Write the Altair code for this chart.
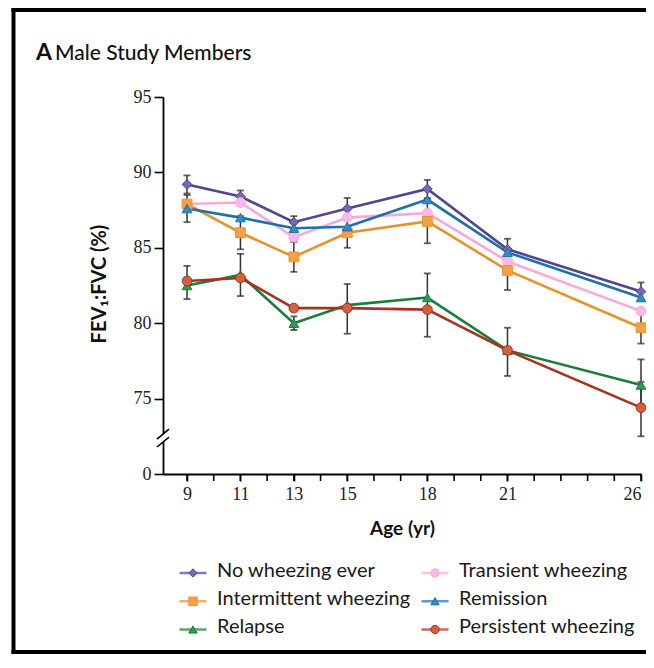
import altair as alt
import pandas as pd

# ---------------- data ----------------
ages = [9, 11, 13, 15, 18, 21, 26]
minor_ticks = [9, 10, 11, 12, 13, 14, 15, 16, 17, 18, 19, 20, 21, 22, 23, 24, 25, 26]
series = ["No wheezing ever", "Transient wheezing", "Intermittent wheezing",
          "Remission", "Relapse", "Persistent wheezing"]
no_wheezing = [89.2, 88.4, 86.7, 87.6, 88.9, 84.9, 82.1]
transient = [87.9, 88.0, 85.7, 87.0, 87.3, 84.1, 80.8]
intermittent = [87.9, 86.0, 84.4, 86.0, 86.75, 83.5, 79.7]
remission = [87.6, 87.0, 86.3, 86.4, 88.2, 84.7, 81.7]
relapse = [82.5, 83.2, 80.0, 81.2, 81.7, 78.2, 75.9]
persistent = [82.8, 83.0, 81.0, 81.0, 80.9, 78.2, 74.4]

err_series = (["No wheezing ever"] * 7 + ["Remission"] +
              ["Intermittent wheezing"] * 6 +
              ["Persistent wheezing"] * 5 + ["Relapse"] * 3)
err_age = ([9, 11, 13, 15, 18, 21, 26] + [9] +
           [11, 13, 15, 18, 21, 26] +
           [9, 15, 18, 21, 26] + [11, 13, 26])
err_low = ([88.6, 88.0, 86.3, 86.9, 88.3, 84.2, 81.5] + [86.7] +
           [84.9, 83.4, 85.0, 85.3, 82.2, 78.65] +
           [81.6, 79.3, 79.1, 76.5, 72.5] + [81.8, 79.55, 74.2])
err_high = ([89.8, 88.8, 87.1, 88.3, 89.5, 85.6, 82.7] + [88.5] +
            [87.1, 85.4, 87.0, 88.2, 84.8, 80.75] +
            [83.8, 82.6, 83.3, 79.7, 76.1] + [84.6, 80.45, 77.6])

y_ticks = [70, 75, 80, 85, 90, 95]
legend_col = [0, 1, 0, 1, 0, 1]
legend_row = [0, 0, 1, 1, 2, 2]

line_colors = ["#54438F", "#F7A9DC", "#E8922E", "#1F6FA8", "#1E7B3E", "#A8321F"]
fill_colors = ["#7A66B2", "#FFB8EA", "#F6A04C", "#2F8CC4", "#2E9A54", "#D3603E"]
shapes = ["diamond", "circle", "square", "triangle-up", "triangle-up", "circle"]

# ---------------- tables ----------------
rows = []
for name, vals in zip(series, [no_wheezing, transient, intermittent, remission, relapse, persistent]):
    for a, v in zip(ages, vals):
        rows.append({"series": name, "age": a, "value": v})
df = pd.DataFrame(rows)
err = pd.DataFrame({"series": err_series, "age": err_age, "low": err_low, "high": err_high})
leg = pd.DataFrame({"series": series, "col": legend_col, "row": legend_row})
ticks_df = pd.DataFrame({"t": minor_ticks})
one = pd.DataFrame({"k": [0]})

W, H = 478, 377
SANS = "Lato"
SERIF = "Liberation Serif"

color_s = alt.Scale(domain=series, range=line_colors)
fill_s = alt.Scale(domain=series, range=fill_colors)
shape_s = alt.Scale(domain=series, range=shapes)

x_enc = alt.X("age:Q",
              scale=alt.Scale(domain=[8.1, 26], nice=False, zero=False),
              axis=alt.Axis(values=ages, labelOverlap=False, labelFlush=True,
                            tickSize=7, labelPadding=4, labelFontSize=18, labelFont=SERIF,
                            title="Age (yr)", titleX=W / 2, titleY=60, titleAlign="center",
                            titleBaseline="alphabetic", titleFontSize=19, titleFont=SANS,
                            titleFontWeight="bold", grid=False))
y_enc = alt.Y("value:Q",
              scale=alt.Scale(domain=[70, 95], nice=False, zero=False),
              axis=alt.Axis(values=y_ticks,
                            labelExpr="datum.value == 70 ? '0' : datum.label",
                            labelOverlap=False, labelFlush=False,
                            tickSize=9, labelPadding=3, labelFontSize=18, labelFont=SERIF,
                            title="FEV\u2081:FVC (%)", titleX=-64, titleY=H / 2 - 2,
                            titleAngle=-90, titleAlign="center", titleBaseline="middle",
                            titleFontSize=20, titleFont=SANS, titleFontWeight="bold",
                            grid=False))

errbars = alt.Chart(err).mark_rule(color="#333", strokeWidth=1.5).encode(
    x=x_enc, y=alt.Y("low:Q"), y2="high:Q")
errcaps_lo = alt.Chart(err).mark_tick(color="#222", orient="horizontal", size=7, thickness=1.8).encode(
    x="age:Q", y="low:Q")
errcaps_hi = alt.Chart(err).mark_tick(color="#222", orient="horizontal", size=7, thickness=1.8).encode(
    x="age:Q", y="high:Q")

lines = alt.Chart(df).mark_line(strokeWidth=2.6).encode(
    x=x_enc, y=y_enc,
    color=alt.Color("series:N", scale=color_s, legend=None))
points = alt.Chart(df).mark_point(filled=True, size=95, strokeWidth=1, opacity=1).encode(
    x="age:Q", y="value:Q",
    shape=alt.Shape("series:N", scale=shape_s, legend=None),
    fill=alt.Fill("series:N", scale=fill_s, legend=None),
    stroke=alt.Stroke("series:N", scale=color_s, legend=None))

# yearly ticks on the age axis
year_ticks = alt.Chart(ticks_df).mark_rule(color="black", strokeWidth=1.6).encode(
    x="t:Q", y=alt.value(H), y2=alt.value(H + 7))

# axis break
gap = alt.Chart(one).mark_rule(color="white", strokeWidth=5).encode(
    x=alt.value(0), y=alt.datum(72.12), y2=alt.datum(72.65))
slash1 = alt.Chart(one).mark_rule(color="black", strokeWidth=1.6).encode(
    x=alt.value(-6), x2=alt.value(6), y=alt.datum(71.79), y2=alt.datum(72.45))
slash2 = alt.Chart(one).mark_rule(color="black", strokeWidth=1.6).encode(
    x=alt.value(-6), x2=alt.value(6), y=alt.datum(72.32), y2=alt.datum(72.98))

# frame
frame_left = alt.Chart(one).mark_rule(color="black", strokeWidth=4).encode(
    x=alt.value(-149.5), y=alt.value(-89), y2=alt.value(560))
frame_top = alt.Chart(one).mark_rule(color="black", strokeWidth=4).encode(
    x=alt.value(-151.5), x2=alt.value(520), y=alt.value(-87))
frame_bottom = alt.Chart(one).mark_rule(color="black", strokeWidth=4).encode(
    x=alt.value(-151.5), x2=alt.value(520), y=alt.value(555))

# title
title_a = alt.Chart(one).mark_text(align="left", baseline="alphabetic", fontSize=23,
                                   font=SANS, fontWeight="bold", color="#111").encode(
    x=alt.value(-127), y=alt.value(-37), text=alt.value("A"))
title_t = alt.Chart(one).mark_text(align="left", baseline="alphabetic", fontSize=21,
                                   font=SANS, fontWeight=500, color="#111").encode(
    x=alt.value(-108), y=alt.value(-37), text=alt.value("Male Study Members"))

plot = alt.layer(errbars, errcaps_lo, errcaps_hi, lines, points, year_ticks,
                 gap, slash1, slash2, frame_left, frame_top, frame_bottom,
                 title_a, title_t)

# legend (drawn from the legend table)
lx = alt.X("col:Q", scale=alt.Scale(domain=[0, 1], range=[30, 272]), axis=None)
ly = alt.Y("row:Q", scale=alt.Scale(domain=[0, 2], range=[476, 532.5]), axis=None)
leg_line = alt.Chart(leg).mark_tick(orient="horizontal", size=27, thickness=2.5).encode(
    x=lx, y=ly, color=alt.Color("series:N", scale=color_s, legend=None))
leg_pt = alt.Chart(leg).mark_point(filled=True, size=70, strokeWidth=1, opacity=1).encode(
    x="col:Q", y="row:Q",
    shape=alt.Shape("series:N", scale=shape_s, legend=None),
    fill=alt.Fill("series:N", scale=fill_s, legend=None),
    stroke=alt.Stroke("series:N", scale=color_s, legend=None))
leg_txt = alt.Chart(leg).mark_text(align="left", baseline="alphabetic", dx=24, dy=3.5,
                                   fontSize=20, font=SANS, color="#1a1a1a").encode(
    x="col:Q", y="row:Q", text="series:N")
legend = alt.layer(leg_line, leg_pt, leg_txt)

chart = alt.layer(plot, legend).resolve_scale(x="independent", y="independent").properties(
    width=W, height=H,
    autosize=alt.AutoSizeParams(type="none"),
    padding={"left": 155, "top": 89, "right": 5, "bottom": 180},
).configure_view(stroke=None).configure_axis(
    domainColor="black", domainWidth=1.8, tickColor="black", tickWidth=1.6,
    labelColor="#222", titleColor="#111")

chart.save("out.html", embed_options={"renderer": "svg", "actions": False})
